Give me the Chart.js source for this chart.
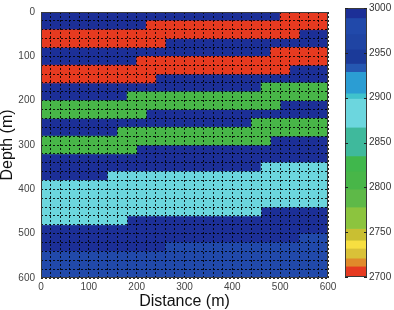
<!DOCTYPE html>
<html>
<head>
<meta charset="utf-8">
<script src="https://cdn.jsdelivr.net/npm/chart.js@4.4.1/dist/chart.umd.min.js"></script>
<style>
  html, body { margin: 0; padding: 0; background: #fff; }
  #wrap { position: relative; width: 394px; height: 310px; }
  #main { position: absolute; left: 0; top: 0; }
  #cbar { position: absolute; left: 330px; top: 0; }
</style>
</head>
<body>
<div id="wrap">
  <canvas id="main" width="340" height="310"></canvas>
  <canvas id="cbar" width="64" height="310"></canvas>
</div>
<script>
// column centres along the profile (m), 20 m cells
const distance = [10,30,50,70,90,110,130,150,170,190,210,230,250,270,290,310,330,350,370,390,410,430,450,470,490,510,530,550,570,590];

// layer top / bottom depth for each column (m)
const red1Top     = [40,40,40,40,40,40,40,40,40,40,40,20,20,20,20,20,20,20,20,20,20,20,20,20,20,0,0,0,0,0];
const red1Bottom  = [80,80,80,80,80,80,80,80,80,80,80,80,80,60,60,60,60,60,60,60,60,60,60,60,60,60,60,40,40,40];
const red2Top     = [120,120,120,120,120,120,120,120,120,120,100,100,100,100,100,100,100,100,100,100,100,100,100,100,80,80,80,80,80,80];
const red2Bottom  = [160,160,160,160,160,160,160,160,160,160,160,160,140,140,140,140,140,140,140,140,140,140,140,140,140,140,120,120,120,120];
const green1Top   = [200,200,200,200,200,200,200,200,200,180,180,180,180,180,180,180,180,180,180,180,180,180,180,160,160,160,160,160,160,160];
const green1Bottom= [240,240,240,240,240,240,240,240,240,240,240,220,220,220,220,220,220,220,220,220,220,220,220,220,220,200,200,200,200,200];
const green2Top   = [280,280,280,280,280,280,280,280,260,260,260,260,260,260,260,260,260,260,260,260,260,260,240,240,240,240,240,240,240,240];
const green2Bottom= [320,320,320,320,320,320,320,320,320,320,300,300,300,300,300,300,300,300,300,300,300,300,300,300,280,280,280,280,280,280];
const cyanTop     = [380,380,380,380,380,380,380,360,360,360,360,360,360,360,360,360,360,360,360,360,360,360,360,340,340,340,340,340,340,340];
const cyanBottom  = [480,480,480,480,480,480,480,480,480,460,460,460,460,460,460,460,460,460,460,460,460,460,460,440,440,440,440,440,440,440];
const deepTop     = [540,540,540,540,540,540,540,540,540,540,540,540,540,520,520,520,520,520,520,520,520,520,520,520,520,520,520,500,500,500];
const surface = 0;
const modelBottom = 600;

// velocities (m/s)
const velBackground = 3000;
const velRed = 2700;
const velGreen = 2810;
const velCyan = 2880;
const velDeep = 2980;

// colour bar bands
const cbLow    = [2989,2971,2954,2938,2929,2905,2899,2867,2835,2818,2798,2778,2754,2741,2732,2721,2712,2700];
const cbHigh   = [3000,2989,2971,2954,2938,2929,2905,2899,2867,2835,2818,2798,2778,2754,2741,2732,2721,2712];
const cbColors = ['#1c2f97','#2149aa','#1f44a3','#1b3a99','#2557b1','#2b9dd3','#40c2cc','#6cd6de','#3fb99c','#40b74c','#48b648','#5eb948','#8cc43e','#c9bf32','#f7df41','#d9c138','#e08a2a','#e63a20'];

Chart.defaults.font.family = '"Liberation Sans", Arial, Helvetica, sans-serif';
Chart.defaults.color = '#333';

function colorFor(v) {
  for (let i = 0; i < cbLow.length; i++) {
    if (v >= cbLow[i] && v <= cbHigh[i]) return cbColors[i];
  }
  return '#000';
}

function layer(top, bottom, vel) {
  return {
    data: distance.map((x, i) => ({ x: x, y: [Array.isArray(top) ? top[i] : top, Array.isArray(bottom) ? bottom[i] : bottom] })),
    backgroundColor: colorFor(vel),
    borderWidth: 0,
    grouped: false,
    barPercentage: 1,
    categoryPercentage: 1
  };
}

const frame = {
  id: 'frame',
  afterDraw(chart) {
    const { ctx, chartArea: a } = chart;
    ctx.save();
    ctx.strokeStyle = '#3a3a3a';
    ctx.lineWidth = 1;
    ctx.strokeRect(Math.round(a.left) + 0.5, Math.round(a.top) + 0.5, Math.round(a.right - a.left) - 1, Math.round(a.bottom - a.top) - 1);
    ctx.restore();
  }
};

const hundreds = v => (v % 100 === 0 ? String(v) : '');

new Chart(document.getElementById('main'), {
  type: 'bar',
  data: {
    datasets: [
      layer(red1Top, red1Bottom, velRed),
      layer(red2Top, red2Bottom, velRed),
      layer(green1Top, green1Bottom, velGreen),
      layer(green2Top, green2Bottom, velGreen),
      layer(cyanTop, cyanBottom, velCyan),
      layer(deepTop, modelBottom, velDeep),
      layer(surface, modelBottom, velBackground)
    ]
  },
  options: {
    responsive: false,
    animation: false,
    layout: { padding: { left: 0, top: 5, right: 12, bottom: 0 } },
    plugins: { legend: { display: false }, tooltip: { enabled: false } },
    scales: {
      x: {
        type: 'linear', min: 0, max: 600, offset: false,
        grid: { z: 1, color: 'rgba(0,0,0,0.85)', drawTicks: false, offset: false },
        border: { display: false, dash: [2, 2] },
        ticks: { stepSize: 20, autoSkip: false, maxRotation: 0, padding: 3, font: { size: 10 }, color: '#444', callback: hundreds },
        title: { display: true, text: 'Distance (m)', color: '#111', font: { size: 16, lineHeight: 1 }, padding: 0 },
        afterFit(scale) { scale.height = 32; }
      },
      y: {
        type: 'linear', min: 0, max: 600, reverse: true,
        grid: { z: 1, color: 'rgba(0,0,0,0.85)', drawTicks: false },
        border: { display: false, dash: [2, 2] },
        ticks: { stepSize: 20, autoSkip: false, padding: 6, font: { size: 10 }, color: '#444', callback: hundreds },
        title: { display: true, text: 'Depth (m)', color: '#111', font: { size: 16, lineHeight: 1 }, padding: 0 },
        afterFit(scale) { scale.width = 41; }
      }
    }
  },
  plugins: [frame]
});

const cbTicks = {
  id: 'cbTicks',
  afterDraw(chart) {
    const { ctx, chartArea: a } = chart;
    const y = chart.scales.y;
    ctx.save();
    ctx.strokeStyle = '#222';
    ctx.lineWidth = 1;
    y.ticks.forEach(t => {
      const py = Math.round(y.getPixelForValue(t.value)) + 0.5;
      ctx.beginPath();
      ctx.moveTo(a.left, py); ctx.lineTo(a.left + 3, py);
      ctx.moveTo(a.right, py); ctx.lineTo(a.right - 3, py);
      ctx.stroke();
    });
    ctx.restore();
  }
};

new Chart(document.getElementById('cbar'), {
  type: 'bar',
  data: {
    labels: [''],
    datasets: cbLow.map((lo, i) => ({
      data: [[lo, cbHigh[i]]],
      backgroundColor: cbColors[i],
      borderWidth: 0,
      grouped: false,
      barPercentage: 1,
      categoryPercentage: 1
    }))
  },
  options: {
    responsive: false,
    animation: false,
    layout: { padding: { left: 15, top: 5, right: 0, bottom: 33 } },
    plugins: { legend: { display: false }, tooltip: { enabled: false } },
    scales: {
      x: { display: false },
      y: {
        position: 'right', min: 2700, max: 3000,
        grid: { display: false, drawTicks: false },
        border: { display: false },
        ticks: { stepSize: 50, padding: 2, font: { size: 10 }, color: '#333', callback: v => String(v) },
        afterFit(scale) { scale.width = 27; }
      }
    }
  },
  plugins: [frame, cbTicks]
});
</script>
</body>
</html>
